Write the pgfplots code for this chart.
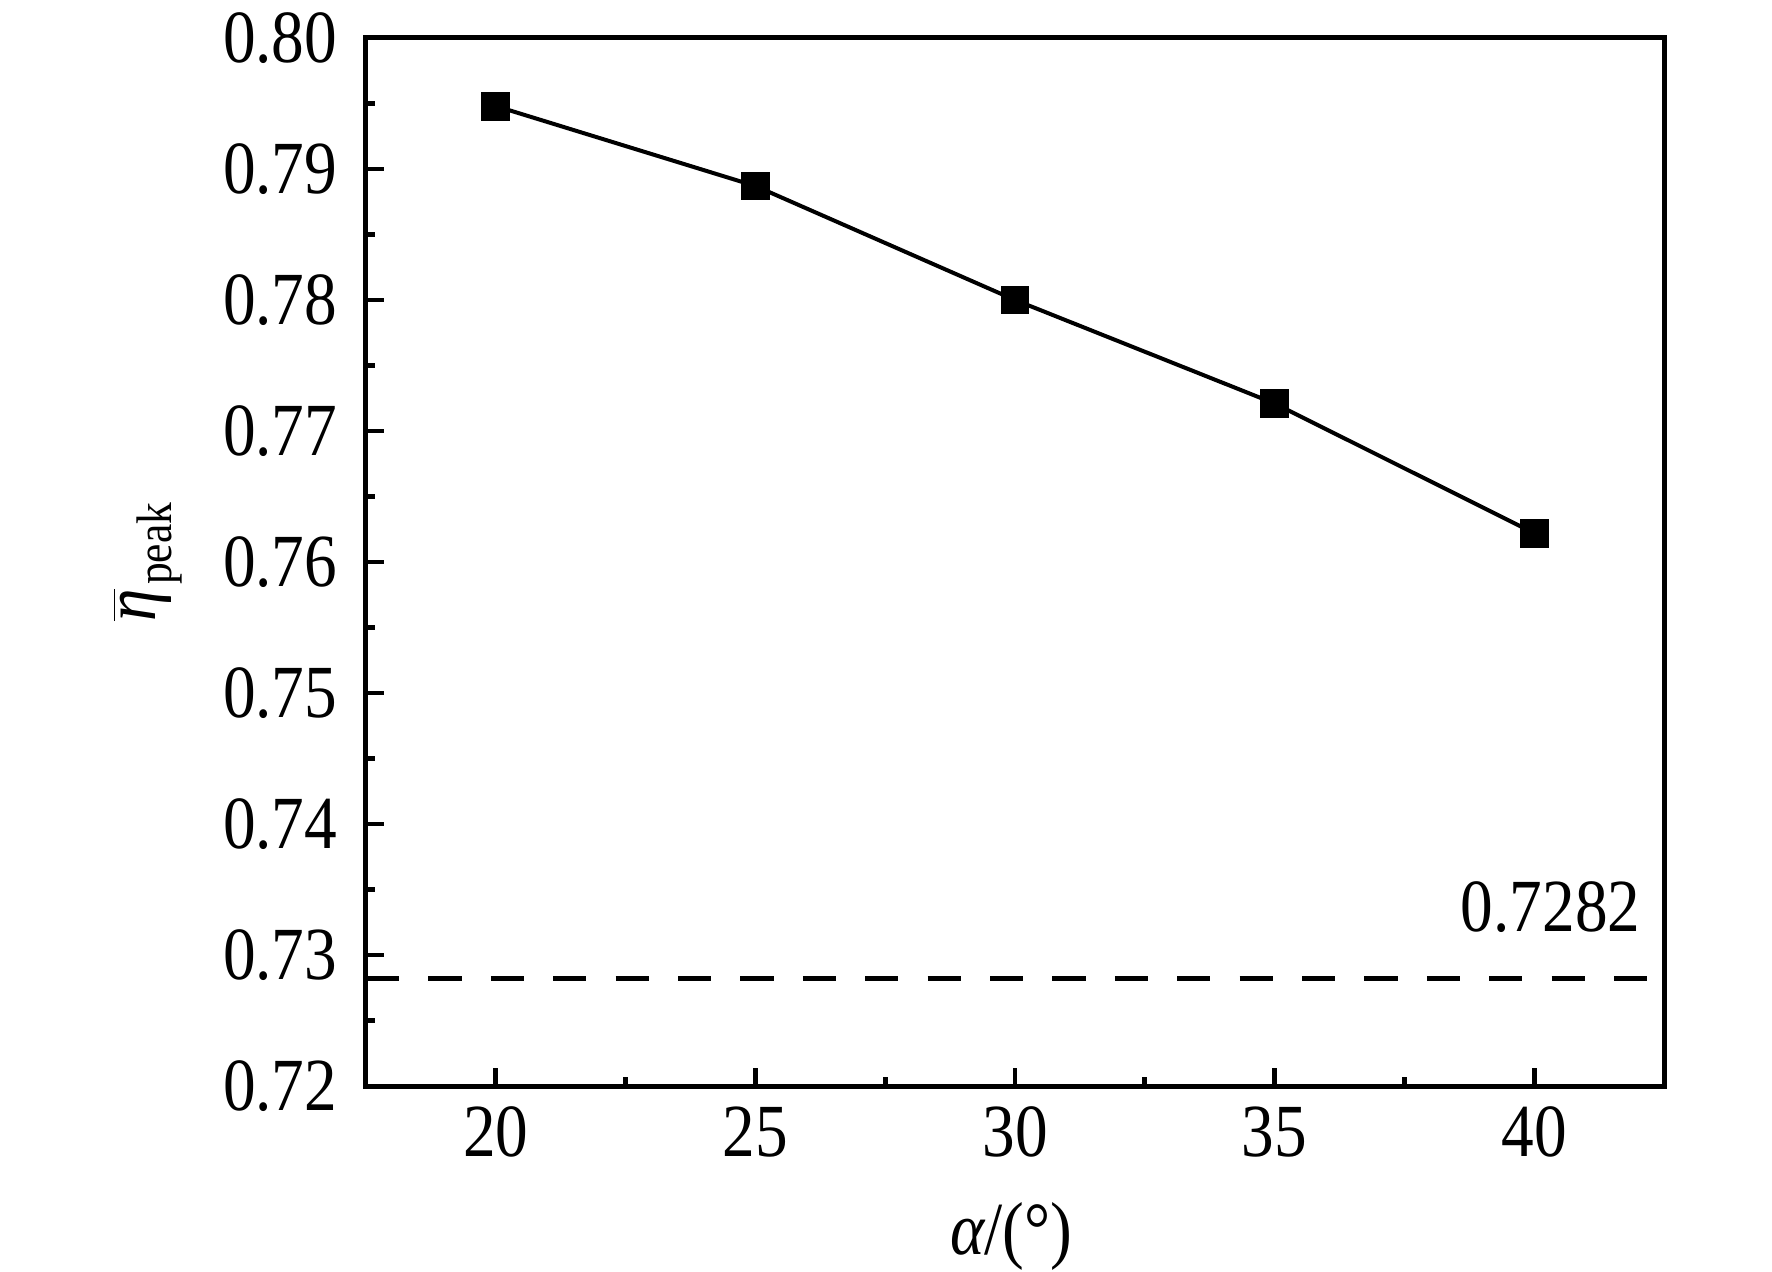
\documentclass[border=0pt]{standalone}
\usepackage{fontspec}
\setmainfont{Liberation Serif}[FakeStretch=0.87]
\usepackage{pgfplots}
\pgfplotsset{compat=1.18}
\begin{document}
\begin{tikzpicture}
\begin{axis}[
  at={(0,0)}, anchor=south west,
  scale only axis,
  width=324.5pt, height=262pt,
  xmin=17.5, xmax=42.5, ymin=0.72, ymax=0.80,
  xtick={20,25,30,35,40},
  ytick={0.72,0.73,0.74,0.75,0.76,0.77,0.78,0.79,0.80},
  minor x tick num=1, minor y tick num=1,
  tick pos=left, tick align=inside,
  major tick length=4.5pt, minor tick length=2.3pt,
  axis line style={line width=1.25pt},
  every tick/.style={black, line width=1.2pt},
  /pgf/number format/assume math mode=true,
  yticklabel style={/pgf/number format/.cd, fixed, fixed zerofill, precision=2, /tikz/.cd, anchor=east, inner sep=0pt, xshift=-7pt},
  xticklabel style={anchor=north, inner sep=0pt, yshift=-4.9pt},
  tick label style={font=\fontsize{18.75}{20}\selectfont},
  xlabel={{\itshape α}/(°)},
  xlabel style={at={(axis description cs:0.497,-0.144)}, anchor=center, font=\fontsize{18.75}{20}\selectfont},
  ylabel={$\overline{\hbox{\fontsize{18.75}{20}\selectfont\itshape η}}$\hbox{\kern1pt\raisebox{-4pt}{\fontsize{12.5}{14}\selectfont peak}}},
  ylabel style={at={(axis description cs:-0.1687,0.5)}, anchor=center, rotate=0},
]
\addplot[black, line width=1pt, mark=square*, mark size=3.1pt, mark options={solid, fill=black}]
  coordinates {(20,0.7948) (25,0.7887) (30,0.7800) (35,0.7721) (40,0.7622)};
\addplot[black, line width=1.1pt, dash pattern=on 8.3pt off 7.3pt, forget plot]
  coordinates {(17.5,0.7282) (42.5,0.7282)};
\node[anchor=base east, inner sep=0pt, font=\fontsize{18.75}{20}\selectfont] at (axis cs:42.06,0.7318) {0.7282};
\end{axis}
\pgfresetboundingbox
\path (-91.5pt,-46.25pt) rectangle (351.5pt,271.5pt);
\end{tikzpicture}
\end{document}
